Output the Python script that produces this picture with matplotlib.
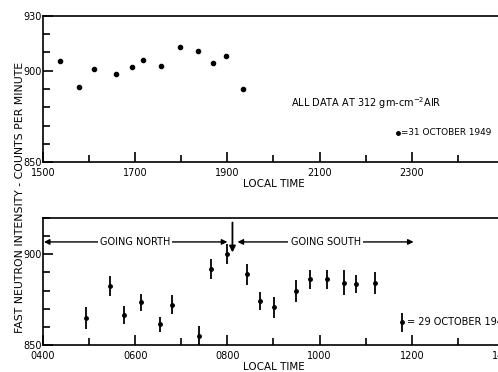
import matplotlib.pyplot as plt
from matplotlib.ticker import FixedLocator, MultipleLocator

# 31 October 1949 (local time in hours)
oct31_time = [15.38, 15.78, 16.10, 16.58, 16.93, 17.18, 17.55, 17.98, 18.36, 18.68, 18.98, 19.34]
oct31_counts = [905.2, 890.9, 900.8, 898.4, 902.2, 905.9, 902.6, 912.8, 910.7, 904.2, 908.1, 889.8]

# 29 October 1949
oct29_time = [4.93, 5.46, 5.76, 6.12, 6.54, 6.79, 7.38, 7.65, 7.99, 8.43,
              8.70, 9.02, 9.49, 9.80, 10.16, 10.53, 10.80, 11.20]
oct29_counts = [864.8, 882.4, 866.3, 873.5, 861.5, 872.2, 855.2, 892.0, 900.0, 888.9,
                874.4, 870.7, 879.6, 886.1, 886.1, 884.3, 883.7, 884.3]
oct29_err = [6.0, 5.5, 5.0, 4.8, 4.2, 5.3, 5.0, 5.4, 5.5, 5.8,
             5.0, 6.0, 6.0, 5.5, 5.5, 7.0, 5.0, 6.0]

top_ticks = [15, 17, 19, 21, 23]
bottom_ticks = [4, 6, 8, 10, 12, 14]

plt.rcParams['font.family'] = 'DejaVu Sans'
fig = plt.figure(figsize=(4.98, 3.72), dpi=100)

ax1 = fig.add_axes([0.0863, 0.5645, 0.9257, 0.3925])
ax2 = fig.add_axes([0.0863, 0.0726, 0.9257, 0.3414])


def hhmm(t):
    return f"{int(round(t * 100)):04d}"


for ax in (ax1, ax2):
    ax.spines['right'].set_visible(False)
    for s in ax.spines.values():
        s.set_linewidth(1.2)
    ax.tick_params(direction='in', length=7, width=1.2, labelsize=7)
    ax.tick_params(axis='x', pad=4)
    ax.tick_params(axis='y', pad=1)
    ax.tick_params(which='minor', direction='in', length=5, width=1.2)
    ax.yaxis.set_minor_locator(MultipleLocator(10))
    ax.xaxis.set_minor_locator(MultipleLocator(1))
    ax.set_xlabel('LOCAL TIME', fontsize=7.5, labelpad=1)

# top panel
ax1.plot(oct31_time, oct31_counts, 'o', color='black', markersize=3)
ax1.set_xlim(15, 25)
ax1.set_ylim(850, 930)
ax1.xaxis.set_major_locator(FixedLocator(top_ticks))
ax1.set_xticklabels([hhmm(t) for t in top_ticks])
ax1.yaxis.set_major_locator(FixedLocator([850, 900, 930]))
ax1.set_yticklabels(['850', '900', '930'])
ax1.text(20.37, 882.3, 'ALL DATA AT 312 gm-cm$^{-2}$AIR', fontsize=7, va='center')
ax1.plot([22.70], [865.9], 'o', color='black', markersize=2.5)
ax1.text(22.76, 865.9, '=31 OCTOBER 1949', fontsize=6.4, va='center')

# bottom panel
ax2.errorbar(oct29_time, oct29_counts, yerr=oct29_err, fmt='o', color='black',
             markersize=2.5, elinewidth=1.3, capsize=0)
ax2.set_xlim(4, 14)
ax2.set_ylim(850, 920)
ax2.xaxis.set_major_locator(FixedLocator(bottom_ticks))
ax2.set_xticklabels([hhmm(t) for t in bottom_ticks])
ax2.yaxis.set_major_locator(FixedLocator([850, 900]))
ax2.set_yticklabels(['850', '900'])

arrow = dict(arrowstyle='<|-|>', color='black', lw=1.0, mutation_scale=8,
             shrinkA=0, shrinkB=0)
ax2.annotate('', xy=(4.02, 906.8), xytext=(8.0, 906.8), arrowprops=arrow)
ax2.text(6.0, 906.8, 'GOING NORTH', fontsize=7, ha='center', va='center',
         bbox=dict(facecolor='white', edgecolor='none', pad=1.5))
ax2.annotate('', xy=(8.22, 906.8), xytext=(12.04, 906.8), arrowprops=arrow)
ax2.text(10.13, 906.8, 'GOING SOUTH', fontsize=7, ha='center', va='center',
         bbox=dict(facecolor='white', edgecolor='none', pad=1.5))
ax2.annotate('', xy=(8.11, 901.0), xytext=(8.11, 917.5),
             arrowprops=dict(arrowstyle='-|>', color='black', lw=1.3,
                             mutation_scale=9, shrinkA=0, shrinkB=0))

ax2.errorbar([11.78], [862.4], yerr=[5.5], fmt='o', color='black',
             markersize=2.5, elinewidth=1.3, capsize=0)
ax2.text(11.9, 862.4, '= 29 OCTOBER 1949', fontsize=7, va='center')

fig.text(0.04, 0.47, 'FAST NEUTRON INTENSITY - COUNTS PER MINUTE', rotation=90,
         fontsize=7.8, ha='center', va='center')

fig.savefig('out.png', dpi=100)
